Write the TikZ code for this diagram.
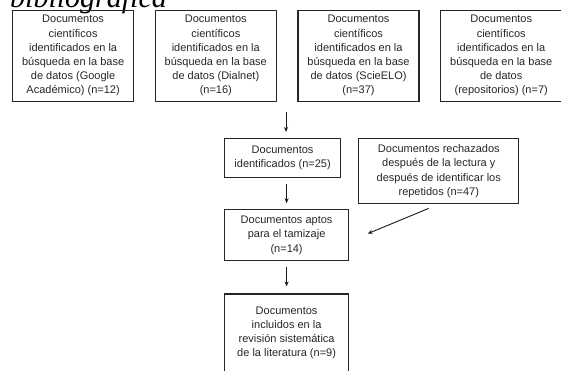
\documentclass[tikz,border=0pt]{standalone}
\usepackage{fontspec}
\setmainfont{Liberation Sans}
\newfontfamily\captionfont{Liberation Serif}
\usetikzlibrary{arrows.meta,positioning}
\tikzset{
  srcbox/.style={rectangle, draw=black!85, line width=1.2pt, align=center,
                 minimum width=121pt, minimum height=91.5pt, inner sep=2pt,
                 text=black!85, font=\fontsize{11}{14.2}\selectfont},
  stagebox/.style={rectangle, draw=black!85, line width=1.2pt, align=center,
                   inner sep=2pt, text=black!85,
                   font=\fontsize{11}{14.2}\selectfont},
  captiontext/.style={font=\captionfont\itshape\fontsize{30}{30}\selectfont,
                      inner sep=0pt},
  flowarrow/.style={-{Stealth[length=5pt,width=4pt]}, line width=0.9pt, draw=black!90},
}
\begin{document}
\begin{tikzpicture}[x=1pt, y=-1pt, node distance=20pt and 20pt]
    \useasboundingbox (0,0) rectangle (561,370);
    \clip (0,0) rectangle (561,370);
    % caption cut by the top edge
    \node[captiontext, anchor=base west] (cap) at (10,7) {bibliográfica};
    % sources
    \node[srcbox, anchor=north west] (google) at (12,9.5)
      {Documentos\\científicos\\identificados en la\\búsqueda en la base\\de datos (Google\\Académico) (n=12)};
    \node[srcbox, right=20.5pt of google] (dialnet)
      {Documentos\\científicos\\identificados en la\\búsqueda en la base\\de datos (Dialnet)\\(n=16)};
    \node[srcbox, right=20.5pt of dialnet] (scielo)
      {Documentos\\científicos\\identificados en la\\búsqueda en la base\\de datos (ScieELO)\\(n=37)};
    \node[srcbox, right=20.5pt of scielo] (repos)
      {Documentos\\científicos\\identificados en la\\búsqueda en la base\\de datos\\(repositorios) (n=7)};
    % screening
    \node[stagebox, minimum width=116pt, minimum height=39pt, anchor=north west] (ident) at (224,138)
      {Documentos\\identificados (n=25)};
    \node[stagebox, minimum width=160pt, minimum height=65pt,
          right=17pt of ident.north east, anchor=north west] (rech)
      {Documentos rechazados\\después de la lectura y\\después de identificar los\\repetidos (n=47)};
    \node[stagebox, minimum width=124pt, minimum height=51pt,
          below=31pt of ident.south west, anchor=north west] (aptos)
      {Documentos aptos\\para el tamizaje\\(n=14)};
    \node[stagebox, minimum width=124pt, minimum height=78pt,
          below=32pt of aptos.south west, anchor=north west] (incl)
      {Documentos\\incluidos en la\\revisión sistemática\\de la literatura (n=9)};
    \coordinate (join) at (286,112);
    \draw[flowarrow, shorten >=6pt] (join) -- (join |- ident.north);
    \draw[flowarrow, shorten <=6pt, shorten >=6pt] (ident.south -| aptos.north) -- (aptos.north);
    \draw[flowarrow, shorten <=6pt, shorten >=7pt] (aptos.south) -- (incl.north);
    \draw[flowarrow, shorten <=11pt, shorten >=20pt] (rech.south) -- ([yshift=-6pt]aptos.east);
\end{tikzpicture}
\end{document}
